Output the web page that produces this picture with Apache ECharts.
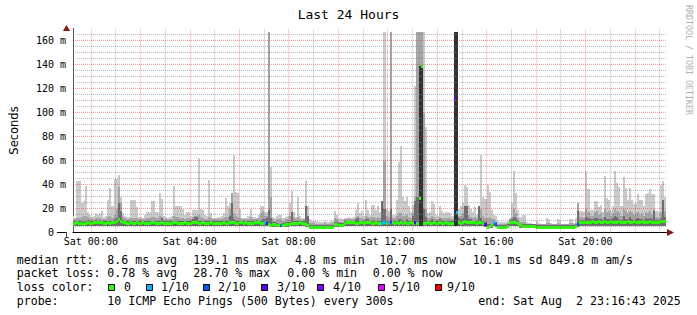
<!DOCTYPE html>
<html><head><meta charset="utf-8">
<script src="https://cdn.jsdelivr.net/npm/echarts@6/dist/echarts.min.js"></script>
<style>html,body{margin:0;padding:0;background:#fff}#c{width:697px;height:315px}</style>
</head><body><div id="c"></div>
<script>
// 5-minute steps, first step starts Fri 23:15 (hours relative to Sat 00:00)
const stepStartHour = -0.75;
const stepHours = 5 / 60;
const axisStartHour = -0.72139; // Fri 23:16:43
const axisEndHour = 23.27861;   // Sat 23:16:43

// top of lightest smoke (ms)
const maxv = [
14,12,43,43,25,26,39,17,15,13,14,16,
15,16,18,13,14,27,37,22,45,45,48,30,
16,14,13,13,27,27,27,21,13,13,12,15,
17,17,26,26,17,17,33,28,14,13,12,13,
14,39,22,22,22,20,15,17,17,14,19,19,
19,62,20,19,15,14,44,16,12,12,13,13,
14,16,29,22,25,33,65,34,33,20,12,12,
12,14,20,13,13,12,15,22,22,17,17,167,
55,13,12,14,15,15,12,13,14,25,35,17,
13,30,14,12,12,43,22,11,10,10,10,9,
9,9,10,9,9,10,10,18,15,11,12,11,
12,12,13,12,13,19,25,16,18,14,27,19,
15,23,23,19,22,17,26,167,20,18,167,15,
15,27,59,72,30,26,30,22,17,23,122,167,
167,167,167,88,16,17,26,24,15,14,22,18,
16,17,17,16,14,167,167,20,22,25,40,38,
23,20,17,21,15,22,65,30,28,40,34,19,
15,14,10,9,9,9,9,10,12,25,51,33,
19,13,15,15,9,8,8,7,7,10,8,7,
7,7,12,11,8,7,7,11,10,7,7,7,
7,11,11,8,12,25,18,18,17,51,36,19,
19,26,26,21,23,17,47,29,27,19,22,51,
41,38,22,46,37,27,37,27,24,25,32,27,
27,22,32,33,36,32,32,18,17,40,43,30];

// top of second smoke layer (ms)
const p2 = [
11,11,12,12,13,14,14,13,12,11,11,12,
12,12,11,11,11,13,14,12,15,20,38,25,
13,12,11,11,12,12,12,12,11,11,11,11,
12,12,13,13,12,12,14,13,11,11,11,11,
11,14,13,13,12,12,11,12,12,11,13,14,
14,15,13,12,11,11,13,12,11,11,11,11,
11,12,13,13,20,33,16,14,13,12,11,11,
11,11,13,11,11,11,12,16,18,14,14,167,
30,11,10,11,11,11,10,11,11,14,17,13,
11,13,11,10,11,22,14,8,8,8,7,7,
7,7,8,7,7,8,8,12,11,9,9,9,
11,11,11,11,11,13,14,12,12,11,14,13,
12,13,13,12,13,12,26,60,14,13,167,12,
12,14,16,16,14,14,15,13,12,16,30,167,
167,167,100,20,12,12,14,13,11,11,13,12,
12,12,12,12,11,167,167,14,14,16,22,22,
15,13,12,13,12,22,20,14,12,12,13,11,
11,9,7,7,7,7,7,8,11,13,20,16,
12,9,9,9,7,7,7,7,7,7,7,7,
7,7,8,8,7,7,7,8,7,7,7,7,
7,8,8,7,8,25,13,13,12,20,17,14,
14,17,18,15,16,13,20,17,18,14,16,20,
18,17,14,20,18,16,18,17,15,16,17,15,
16,14,17,16,18,15,20,13,12,17,27,18];

// top of dark smoke layer (ms)
const p3 = [
9.5,9.5,10,9.5,9.5,9,9.5,10.5,9.5,9.5,10,10.5,
10,10.5,10,9.5,9.5,10,9.5,10,11,12,25,18,
10.5,10,9.5,9.5,10,9.5,9.5,10,9.5,9.5,10,9.5,
9.5,9.5,10,10,9.5,9.5,9.5,12,9.5,9.5,9.5,9.5,
9.5,10,10,9.5,9.5,9.5,10,9.5,9.5,9.5,11,13,
13,9.5,9.5,10,9.5,9.5,9.5,10,9.5,9.5,9.5,9.5,
9.5,10,9.5,9.5,14,25,11,9.5,9.5,10,10,9.5,
10,9.5,9.5,9.5,10,10.5,10,9.5,11,11,12,19,
12,8.5,8.5,8,7.5,7.5,8,8.5,8.5,9,17,9.5,
9.5,9.5,10,9.5,9.5,22,14,6.5,6.5,6.5,6.5,6.5,
6.5,6.5,6.5,6.5,6.5,6.5,6.5,9,9,8,8,8,
9.5,10,10,10,10,11,12,10,10,9.5,11,11,
10,9.5,9.5,10,9.5,9.5,26,20,9.5,10,20,10,
9.5,10,11,11,9.5,10,11,9.5,10,14,26,30,
139,139,20,13,10,9.5,11,10,9.5,9.5,11,9.5,
9.5,10,9.5,9.5,9.5,167,167,12,11,12,22,22,
11,11,10,10,9.5,22,12,9.5,8.5,7,7,7.5,
10,8.5,6.5,6.5,6.5,6.5,6.5,7,10.5,11,13,12,
9.5,7.5,7,7,7,7,7,7,7,6.5,6.5,6.5,
6.5,6.5,6.5,6.5,6.5,6.5,6.5,6.5,6.5,6.5,6.5,6.5,
6.5,6.5,6.5,6.5,7,18,10.5,10.5,10.5,13,12,11,
11,12,12,11,11,10.5,13,11,11,11,12,14,
13,11,10.5,14,11,11,13,11,10.5,11,12,11,
11,10.5,12,11,12,11,18,10.5,10.5,12,27,13];

// top of innermost (black) smoke layer, 0 = none
const p4 = [
0,0,0,0,0,0,0,0,0,0,0,0, 0,0,0,0,0,0,0,0,0,0,0,0,
0,0,0,0,0,0,0,0,0,0,0,0, 0,0,0,0,0,0,0,0,0,0,0,0,
0,0,0,0,0,0,0,0,0,0,0,0, 0,0,0,0,0,0,0,0,0,0,0,0,
0,0,0,0,0,0,0,0,0,0,0,0, 0,0,0,0,0,0,0,0,0,0,0,0,
0,0,0,0,0,0,0,0,0,0,0,0, 0,0,0,0,0,0,0,0,0,0,0,0,
0,0,0,0,0,0,0,0,0,0,0,0, 0,0,0,0,0,0,0,0,0,0,0,0,
0,0,0,0,0,0,0,0,0,0,0,0, 0,0,0,0,0,0,0,0,0,0,0,0,
139,139,0,0,0,0,0,0,0,0,0,0, 0,0,0,0,0,167,167,0,0,0,0,0,
0,0,0,0,0,0,0,0,0,0,0,0, 0,0,0,0,0,0,0,0,0,0,0,0,
0,0,0,0,0,0,0,0,0,0,0,0, 0,0,0,0,0,0,0,0,0,0,0,0,
0,0,0,0,0,0,0,0,0,0,0,0, 0,0,0,0,0,0,0,0,0,0,0,0,
0,0,0,0,0,0,0,0,0,0,0,0, 0,0,0,0,0,0,0,0,0,0,0,0];

// bottom of smoke (ms)
const minv = [
5.5,5.5,5.5,5.5,5.5,5.5,5.5,5.5,5.5,5.5,5.5,5.5,
5.5,5.5,5.5,5.5,5.5,5.5,5.5,5.5,5.5,5.5,5.5,5.5,
5.5,5.5,5.5,5.5,5.5,5.5,5.5,5.5,5.5,5.5,5.5,5.5,
5.5,5.5,5.5,5.5,5.5,5.5,5.5,5.5,5.5,5.5,5.5,5.5,
5.5,5.5,5.5,5.5,5.5,5.5,5.5,5.5,5.5,5.5,5.5,5.5,
5.5,5.5,5.5,5.5,5.5,5.5,5.5,5.5,5.5,5.5,5.5,5.5,
5.5,5.5,5.5,5.5,5.5,5.5,5.5,5.5,5.5,5.5,5.5,5.5,
5.5,5.5,5.5,5.5,5.5,5.5,5.5,5.5,5.5,5.5,5.5,5.5,
5,5,5,5,4.5,4.5,5,5,5,5.5,5.5,5.5,
5.5,5.5,5.5,5.5,5.5,5,4.5,3.5,3.5,3.5,3.5,3.5,
3.5,3.5,3.5,3.5,3.5,3.5,3.5,5,5,4.5,4.5,4.5,
5.5,5.5,5.5,5.5,5.5,5.5,5.5,5.5,5.5,5.5,5.5,5.5,
5.5,5.5,5.5,5.5,5.5,5.5,5.5,5.5,5.5,5.5,5.5,5.5,
5.5,5.5,5.5,5.5,5.5,5.5,5.5,5.5,5.5,5.5,5.5,5.5,
5.5,5.5,5.5,5.5,5.5,5.5,5.5,5.5,5.5,5.5,5.5,5.5,
5.5,5.5,5.5,5.5,5.5,5.5,5.5,5.5,5.5,5.5,5.5,5.5,
5.5,5.5,5.5,5.5,5.5,5.5,5.5,5.5,5,3.5,3.5,4,
5.5,5,3.5,3.5,3.5,3.5,3.5,4,5.5,5.5,5.5,5.5,
5.5,4,3.5,3.5,3.5,3.5,3.5,3.5,3.5,3.5,3.5,3.5,
3.5,3.5,3.5,3.5,3.5,3.5,3.5,3.5,3.5,3.5,3.5,3.5,
3.5,3.5,3.5,3.5,3.5,5,5.5,5.5,5.5,5.5,5.5,5.5,
5.5,5.5,5.5,5.5,5.5,5.5,5.5,5.5,5.5,5.5,5.5,5.5,
5.5,5.5,5.5,5.5,5.5,5.5,5.5,5.5,5.5,5.5,5.5,5.5,
5.5,5.5,5.5,5.5,5.5,5.5,5.5,5.5,5.5,5.5,5.5,5.5];

// median rtt (ms)
const median = [
8,8,8.5,8,8,7.5,8,8.5,8,8,8.5,9,
8.5,9,8.5,8,8,8.5,8,8.5,9,10,11,10,
9,8.5,8,8,8.5,8,8,8.5,8,8,8.5,8,
8,8,8.5,8.5,8,8,8,8.5,8,8,8,8,
8,8.5,8.5,8,8,8,8.5,8,8,8,8.5,8.5,
8.5,8,8,8.5,8,8,8,8.5,8,8,8,8,
8,8.5,8,8,8.5,9,8.5,8,8,8.5,8.5,8,
8.5,8,8,8,8.5,9,8.5,8,8,9,8,7,
6.5,7,7,6.5,6,6,6.5,7,7,7.5,8,8,
8,8,8.5,8,8,7.5,6.5,5,5,5,5,5,
5,5,5,5,5,5,5,7.5,7,6,6,6.5,
8,8.5,8.5,8.5,8.5,8,8,8.5,8.5,8,8.5,8.5,
8.5,8,8,8.5,8,8,8,8.5,8,8.5,9.5,8.5,
8,8.5,8,8.5,8,8.5,8,8,8.5,8,9,8,
29,139,8,8,8.5,8,8,8.5,8,8,8.5,8,
8,8.5,8,8,8,112,17,8.5,8,9,10,9,
9,9,8.5,8.5,8,9,8.5,8,7,5,5.5,6,
9,7,5,5,5,5,5,5.5,9,9,9,9,
8,6,5.5,5.5,5.5,5.5,5.5,5.5,5.5,5,5,5,
5,5,5,5,5,5,5,5,5,5,5,5,
5,5,5,5,5.5,7,9,9,9,9,9,9,
9.5,9,9,9.5,9,9,9.5,9,9,9.5,9,9,
9,9.5,9,9,9,9.5,9,9,9.5,9,9,9,
9.5,9,9,9,9.5,9,8.5,9,9,9.5,10,10];

// lost pings out of 10 per step
const loss = [
0,0,0,0,0,0,0,0,0,0,0,0, 0,0,0,0,0,0,0,0,0,0,0,0,
0,0,0,0,0,0,0,0,0,0,0,0, 0,0,0,0,0,0,0,0,0,0,0,0,
0,0,0,0,0,0,0,0,0,0,0,0, 0,0,0,0,0,0,0,0,0,0,0,0,
0,0,0,0,0,0,0,0,0,0,0,0, 0,0,0,0,0,0,0,0,0,1,3,0,
0,0,0,0,0,2,0,0,0,0,0,0, 0,0,0,0,0,0,0,0,0,0,0,0,
0,0,0,0,0,0,0,0,0,0,0,0, 0,0,0,0,0,0,0,0,0,0,0,0,
0,0,0,0,0,0,1,1,0,1,4,0, 0,0,0,0,0,0,0,0,0,0,3,0,
0,0,0,0,0,0,0,0,0,0,0,0, 0,0,0,0,0,3,1,0,0,0,0,0,
0,0,0,0,0,0,0,0,3,0,0,0, 1,2,0,0,0,0,0,0,0,0,0,0,
0,0,0,0,0,0,0,0,0,0,0,0, 0,0,0,0,0,0,0,0,0,0,0,0,
0,0,0,0,0,2,0,0,0,0,0,0, 0,0,0,0,0,0,0,0,0,0,0,0,
0,0,0,0,0,0,0,0,0,0,0,0, 0,0,0,0,0,0,0,0,0,0,0,0];

const lossLevels = [0, 1, 2, 3, 4, 5, 9];
const lossLabels = ['0', '1/10', '2/10', '3/10', '4/10', '5/10', '9/10'];
const lossColors = ['#26ff00', '#00b8ff', '#0059ff', '#5e00ff', '#7e00ff', '#dd00ff', '#ff0000'];
const smokeColors = ['#cacaca', '#a4a4a4', '#6e6e6e', '#323232'];

const xLabelHours = [0, 4, 8, 12, 16, 20];
const hourGrid = [0,1,2,3,4,5,6,7,8,9,10,11,12,13,14,15,16,17,18,19,20,21,22,23];
const msGrid = [5,10,15,20,25,30,35,40,45,50,55,60,65,70,75,80,85,90,95,100,105,110,115,120,125,130,135,140,145,150,155,160,165];
const yLabelValues = [0, 20, 40, 60, 80, 100, 120, 140, 160];

const legendLines = [
  [['median rtt:', 16.7], ['8.6 ms avg', 107.3], ['139.1 ms max', 193.3], ['4.8 ms min', 295], ['10.7 ms now', 379.3], ['10.1 ms sd', 472.7], ['849.8 m am/s', 549.3]],
  [['packet loss:', 16.7], ['0.78 % avg', 107.3], ['28.70 % max', 193.3], ['0.00 % min', 287.3], ['0.00 % now', 372.7]],
  [['loss color:', 16.7]],
  [['probe:', 16.7], ['10 ICMP Echo Pings (500 Bytes) every 300s', 107.3], ['end: Sat Aug  2 23:16:43 2025', 478.3]]
];
const legendMiddles = [259.5, 273, 287, 301];
const swatchX = [108, 146, 203, 261, 317, 378, 435];
const swatchLabelX = [124, 161, 218, 277, 333, 392, 447];

const smokeData = maxv.map((_, i) => [
  stepStartHour + i * stepHours, stepStartHour + (i + 1) * stepHours,
  minv[i], maxv[i], p2[i], p3[i], p4[i], median[i], loss[i]
]);

const majorStyle = { color: 'rgba(255,0,0,0.38)', type: [1, 1], width: 1 };
const minorStyle = { color: 'rgba(140,140,140,0.6)', type: [1, 1], width: 1 };
const gridLines = [];
hourGrid.forEach(h => gridLines.push({ xAxis: h, lineStyle: h % 2 === 0 ? majorStyle : minorStyle }));
msGrid.forEach(v => gridLines.push({ yAxis: v, lineStyle: v % 20 === 0 ? majorStyle : minorStyle }));

function box(api, t0, t1, lo, hi, fill) {
  const a = api.coord([t0, lo]), b = api.coord([t1, hi]);
  const x0 = Math.round(a[0]), x1 = Math.round(b[0]);
  const y0 = Math.round(a[1]), y1 = Math.round(b[1]);
  return { type: 'rect', shape: { x: x0, y: y1, width: x1 - x0, height: Math.max(0, y0 - y1) }, style: { fill: fill } };
}

const mono = "'DejaVu Sans Mono', monospace";
const nb = s => s.replace(/ /g, '\u00a0');

const graphics = [];
legendLines.forEach((line, li) => {
  line.forEach(seg => {
    graphics.push({ type: 'text', x: seg[1], y: legendMiddles[li], silent: true,
      style: { text: nb(seg[0]), font: "11.6px " + mono, fill: '#000', verticalAlign: 'middle', align: 'left' } });
  });
});
lossLevels.forEach((lv, k) => {
  graphics.push({ type: 'rect', silent: true, shape: { x: swatchX[k] + 0.5, y: 284.5, width: 6, height: 6 },
    style: { fill: lossColors[k], stroke: '#000', lineWidth: 1 } });
  graphics.push({ type: 'text', x: swatchLabelX[k], y: legendMiddles[2], silent: true,
    style: { text: lossLabels[k], font: "11.6px " + mono, fill: '#000', verticalAlign: 'middle', align: 'left' } });
});
graphics.push({ type: 'text', x: 689, y: 5, rotation: -Math.PI / 2, silent: true,
  style: { text: 'RRDTOOL / TOBI OETIKER', font: "8.3px " + mono, fill: '#b0b0b0', verticalAlign: 'middle', align: 'left' } });
// axis arrows and short overhangs
graphics.push({ type: 'line', silent: true, shape: { x1: 57, y1: 232.5, x2: 67, y2: 232.5 }, style: { stroke: '#000', lineWidth: 1 } });
graphics.push({ type: 'line', silent: true, shape: { x1: 66.5, y1: 232, x2: 66.5, y2: 237 }, style: { stroke: '#555', lineWidth: 1 } });
graphics.push({ type: 'polygon', silent: true, shape: { points: [[63, 31], [70, 31], [66.5, 25]] }, style: { fill: '#8b1515' } });
graphics.push({ type: 'polygon', silent: true, shape: { points: [[667, 229], [667, 236], [674, 232.5]] }, style: { fill: '#8b1515' } });

const chart = echarts.init(document.getElementById('c'), null, { renderer: 'svg' });
chart.setOption({
  animation: false,
  backgroundColor: '#fff',
  title: { text: 'Last 24 Hours', left: 'center', top: 2,
    textStyle: { fontFamily: mono, fontSize: 13, fontWeight: 'normal', color: '#000', lineHeight: 14 } },
  grid: { left: 66.5, right: 30.5, top: 28.5, bottom: 82.5, containLabel: false },
  xAxis: {
    type: 'value', min: axisStartHour, max: axisEndHour,
    axisLine: { show: true, onZero: false, lineStyle: { color: '#000', width: 1 } },
    axisTick: { show: false }, splitLine: { show: false },
    axisLabel: { customValues: xLabelHours, margin: 4, color: '#000', fontFamily: mono, fontSize: 10,
      formatter: v => 'Sat ' + String(Math.round(v)).padStart(2, '0') + ':00' }
  },
  yAxis: {
    type: 'value', min: 0, max: 170,
    name: 'Seconds', nameLocation: 'middle', nameRotate: 90, nameGap: 53,
    nameTextStyle: { fontFamily: "'DejaVu Sans', sans-serif", fontSize: 11.5, color: '#000' },
    axisLine: { show: true, onZero: false, lineStyle: { color: '#555', width: 1 } },
    axisTick: { show: false }, splitLine: { show: false },
    axisLabel: { customValues: yLabelValues, margin: 7, color: '#000', fontFamily: mono, fontSize: 10,
      formatter: v => v === 0 ? '0\u00a0\u00a0' : (v % 20 === 0 && v <= 160 ? v + ' m' : '') }
  },
  series: [
    {
      type: 'custom', name: 'smoke', clip: true, z: 2,
      data: smokeData,
      renderItem: (params, api) => {
        const t0 = api.value(0), t1 = api.value(1), lo = api.value(2);
        const tops = [api.value(3), api.value(4), api.value(5), api.value(6)];
        const children = [];
        tops.forEach((top, k) => { if (top > lo) children.push(box(api, t0, t1, lo, top, smokeColors[k])); });
        const med = api.value(7), ls = api.value(8);
        const a = api.coord([t0, med]), b = api.coord([t1, med]);
        const yc = Math.round(a[1]);
        const ci = lossLevels.indexOf(ls);
        children.push({ type: 'rect', shape: { x: Math.round(a[0]), y: yc - 1, width: Math.round(b[0]) - Math.round(a[0]), height: 3 },
          style: { fill: lossColors[ci < 0 ? 0 : ci] } });
        return { type: 'group', children: children };
      }
    },
    {
      type: 'line', name: 'grid', z: 5, data: [], silent: true,
      markLine: { silent: true, symbol: 'none', animation: false, label: { show: false }, data: gridLines }
    }
  ],
  graphic: graphics
});
</script>
</body></html>
